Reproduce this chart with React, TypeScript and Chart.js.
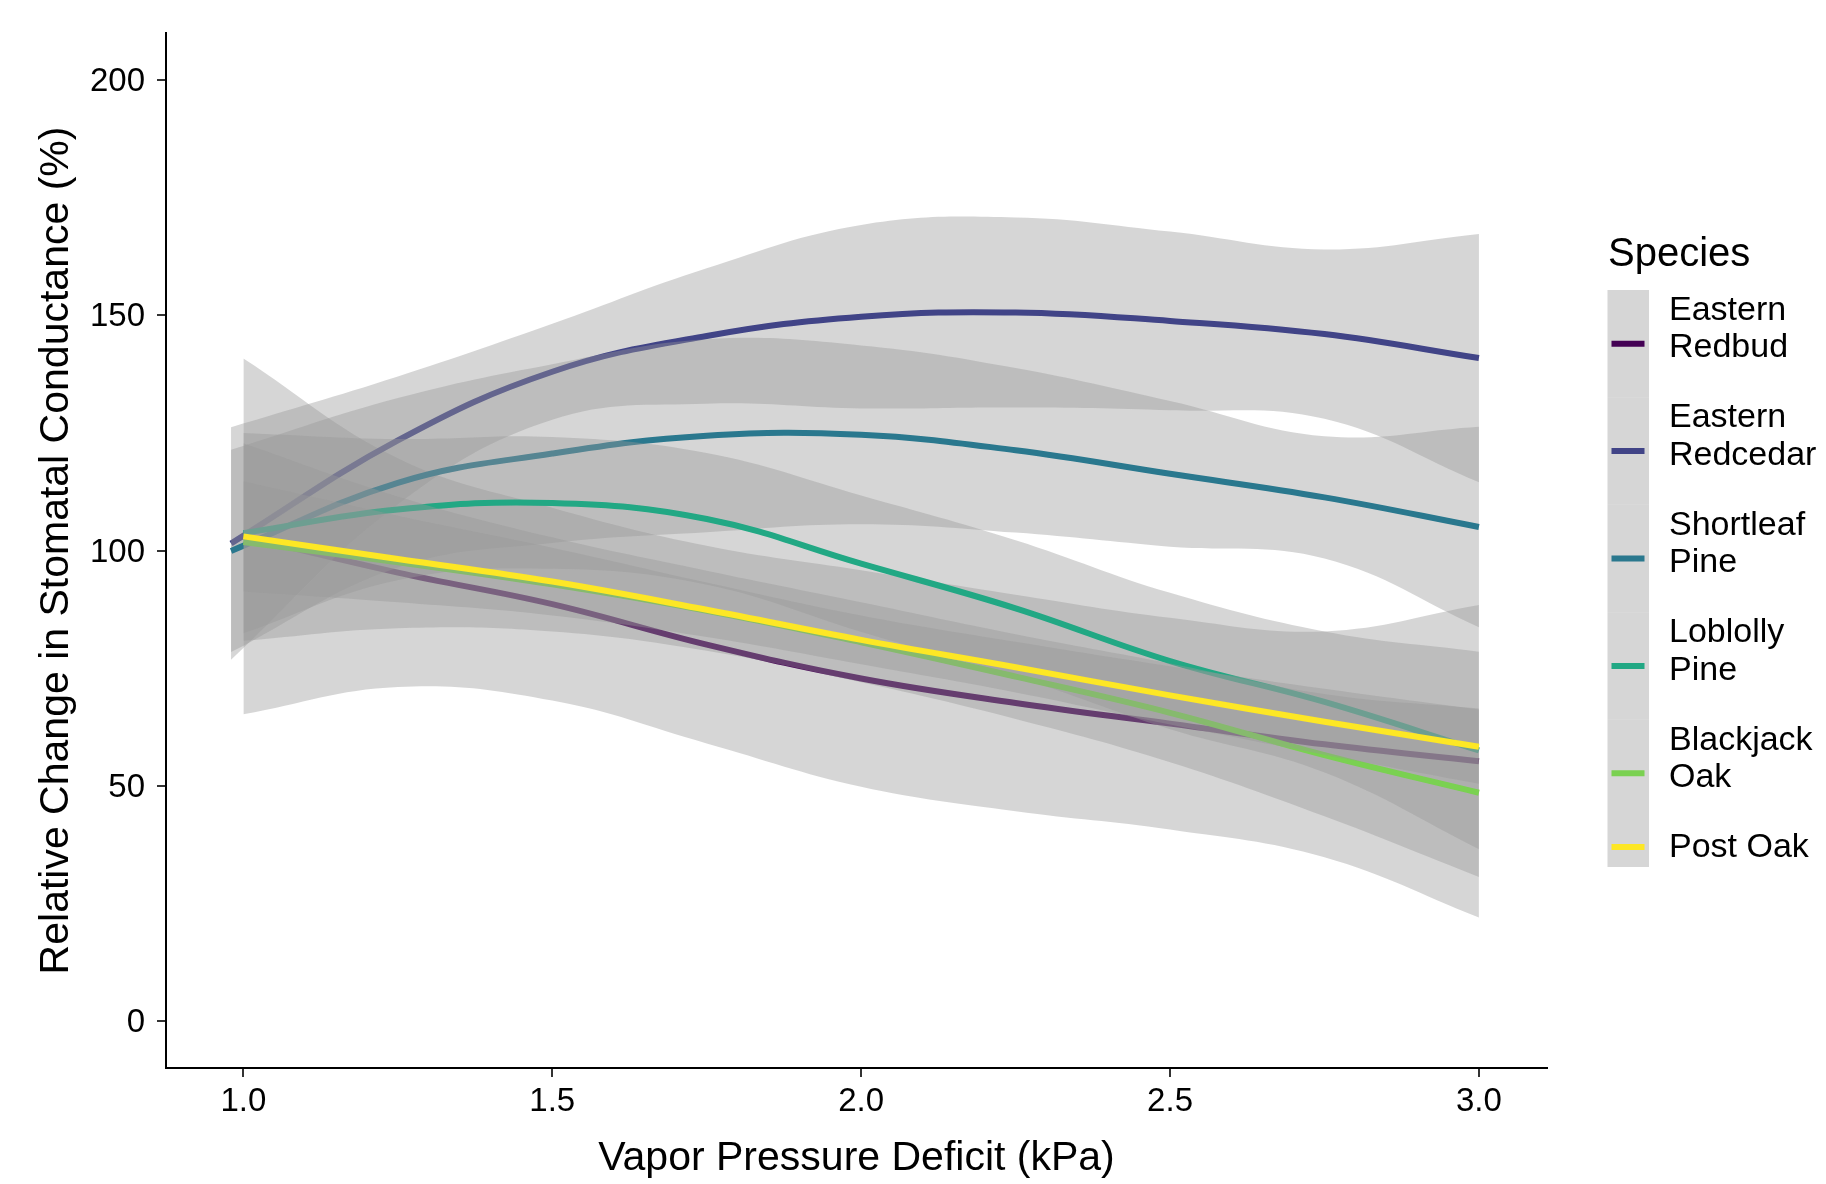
import React, { useEffect, useRef } from 'react';
import { Chart, registerables } from 'chart.js';

Chart.register(...registerables);

const FONT = "'Liberation Sans', Arial, Helvetica, sans-serif";

const SPECIES = ['Eastern Redbud', 'Eastern Redcedar', 'Shortleaf Pine', 'Loblolly Pine', 'Blackjack Oak', 'Post Oak'];
const LEGEND_LABELS = [['Eastern', 'Redbud'], ['Eastern', 'Redcedar'], ['Shortleaf', 'Pine'], ['Loblolly', 'Pine'], ['Blackjack', 'Oak'], ['Post Oak']];
const COLORS = ['#440154', '#414487', '#2A788E', '#22A884', '#7AD151', '#FDE725'];
const RIBBON_FILL = 'rgba(153,153,153,0.4)';

const X_TITLE = 'Vapor Pressure Deficit (kPa)';
const Y_TITLE = 'Relative Change in Stomatal Conductance (%)';
const LEGEND_TITLE = 'Species';
const X_TICKS = [1.0, 1.5, 2.0, 2.5, 3.0];
const Y_TICKS = [0, 50, 100, 150, 200];

// Eastern Redbud
const X_REDBUD = [1.0, 1.25, 1.5, 1.75, 2.0, 2.25, 2.5, 2.75, 3.0];
const FIT_REDBUD = [103.0, 95.3, 88.6, 80.0, 72.8, 67.6, 63.2, 58.8, 55.2];
const LOW_REDBUD = [65.2, 71.0, 68.1, 59.0, 49.8, 44.6, 40.7, 34.8, 22.0];
const HIGH_REDBUD = [140.8, 119.6, 109.1, 101.0, 95.8, 90.6, 85.7, 82.8, 88.4];

// Eastern Redcedar
const X_REDCEDAR = [0.98, 1.25, 1.5, 1.75, 2.0, 2.25, 2.5, 2.75, 3.0];
const FIT_REDCEDAR = [101.5, 123.4, 138.0, 145.6, 149.7, 150.6, 148.8, 146.0, 140.9];
const LOW_REDCEDAR = [76.8, 109.8, 127.8, 131.2, 130.2, 130.4, 129.8, 128.0, 114.5];
const HIGH_REDCEDAR = [126.2, 137.0, 148.2, 160.0, 169.2, 170.8, 167.8, 164.0, 167.3];

// Shortleaf Pine
const X_SHORTLEAF = [0.98, 1.25, 1.5, 1.75, 2.0, 2.25, 2.5, 2.75, 3.0];
const FIT_SHORTLEAF = [99.9, 114.4, 120.6, 124.4, 124.6, 121.3, 116.3, 111.3, 105.0];
const LOW_SHORTLEAF = [78.4, 96.4, 101.6, 103.9, 105.6, 103.8, 100.8, 98.3, 83.7];
const HIGH_SHORTLEAF = [121.4, 132.4, 139.6, 144.9, 143.6, 138.8, 131.8, 124.3, 126.3];

// Loblolly Pine
const X_LOBLOLLY = [1.0, 1.25, 1.5, 1.75, 2.0, 2.25, 2.5, 2.75, 3.0];
const FIT_LOBLOLLY = [103.7, 108.7, 110.1, 106.7, 97.2, 87.7, 76.5, 67.8, 57.5];
const LOW_LOBLOLLY = [82.4, 93.7, 96.1, 92.7, 82.7, 73.2, 62.0, 52.8, 36.5];
const HIGH_LOBLOLLY = [125.0, 123.7, 124.1, 120.7, 111.7, 102.2, 91.0, 82.8, 78.5];

// Blackjack Oak
const X_BLACKJACK = [1.0, 1.25, 1.5, 1.75, 2.0, 2.25, 2.5, 2.75, 3.0];
const FIT_BLACKJACK = [101.8, 97.5, 92.8, 87.2, 80.5, 73.2, 65.5, 56.5, 48.5];
const LOW_BLACKJACK = [80.8, 83.5, 82.8, 78.7, 72.0, 64.2, 55.0, 43.5, 30.6];
const HIGH_BLACKJACK = [122.8, 111.5, 102.8, 95.7, 89.0, 82.2, 76.0, 69.5, 66.4];

// Post Oak
const X_POSTOAK = [1.0, 1.25, 1.5, 1.75, 2.0, 2.25, 2.5, 2.75, 3.0];
const FIT_POSTOAK = [103.0, 98.2, 93.4, 87.4, 81.0, 75.2, 69.2, 63.6, 58.3];
const LOW_POSTOAK = [91.3, 89.0, 86.2, 81.6, 75.8, 69.8, 63.0, 56.6, 50.4];
const HIGH_POSTOAK = [114.7, 107.4, 100.6, 93.2, 86.2, 80.6, 75.4, 70.6, 66.2];

const SERIES = [
  { x: X_REDBUD, fit: FIT_REDBUD, lo: LOW_REDBUD, hi: HIGH_REDBUD },
  { x: X_REDCEDAR, fit: FIT_REDCEDAR, lo: LOW_REDCEDAR, hi: HIGH_REDCEDAR },
  { x: X_SHORTLEAF, fit: FIT_SHORTLEAF, lo: LOW_SHORTLEAF, hi: HIGH_SHORTLEAF },
  { x: X_LOBLOLLY, fit: FIT_LOBLOLLY, lo: LOW_LOBLOLLY, hi: HIGH_LOBLOLLY },
  { x: X_BLACKJACK, fit: FIT_BLACKJACK, lo: LOW_BLACKJACK, hi: HIGH_BLACKJACK },
  { x: X_POSTOAK, fit: FIT_POSTOAK, lo: LOW_POSTOAK, hi: HIGH_POSTOAK },
];

const pts = (xs: number[], ys: number[]) => xs.map((x, i) => ({ x, y: ys[i] }));

function buildDatasets() {
  const ds: any[] = [];
  let seq = 0;
  SERIES.forEach((s, i) => {
    const common = {
      pointRadius: 0,
      pointHoverRadius: 0,
      tension: 0.4,
    };
    ds.push({
      ...common,
      label: SPECIES[i] + ' lower',
      data: pts(s.x, s.lo),
      borderWidth: 0,
      borderColor: 'rgba(0,0,0,0)',
      backgroundColor: 'rgba(0,0,0,0)',
      fill: false,
      order: 1000 - seq++,
    });
    ds.push({
      ...common,
      label: SPECIES[i] + ' upper',
      data: pts(s.x, s.hi),
      borderWidth: 0,
      borderColor: 'rgba(0,0,0,0)',
      backgroundColor: RIBBON_FILL,
      fill: '-1',
      order: 1000 - seq++,
    });
    ds.push({
      ...common,
      label: SPECIES[i],
      data: pts(s.x, s.fit),
      borderWidth: 6,
      borderColor: COLORS[i],
      backgroundColor: COLORS[i],
      fill: false,
      order: 1000 - seq++,
    });
  });
  return ds;
}

const legendPlugin = {
  id: 'ggLegend',
  afterDraw(chart: any) {
    const ctx = chart.ctx as CanvasRenderingContext2D;
    ctx.save();
    ctx.textAlign = 'left';
    ctx.textBaseline = 'alphabetic';
    ctx.fillStyle = '#000';
    ctx.font = `40px ${FONT}`;
    ctx.fillText(LEGEND_TITLE, 1608, 266);
    let y = 290;
    LEGEND_LABELS.forEach((lines, i) => {
      const h = lines.length > 1 ? 107.4 : 40;
      ctx.fillStyle = RIBBON_FILL;
      ctx.fillRect(1607.5, y, 41.5, h);
      const cy = y + h / 2;
      ctx.strokeStyle = COLORS[i];
      ctx.lineWidth = 6;
      ctx.lineCap = 'butt';
      ctx.beginPath();
      ctx.moveTo(1611.5, cy);
      ctx.lineTo(1644.5, cy);
      ctx.stroke();
      ctx.fillStyle = '#000';
      ctx.font = `34px ${FONT}`;
      if (lines.length > 1) {
        ctx.fillText(lines[0], 1669, cy - 36 + 12.2);
        ctx.fillText(lines[1], 1669, cy + 1.5 + 12.2);
      } else {
        ctx.fillText(lines[0], 1669, cy - 2 + 12.2);
      }
      y += h;
    });
    ctx.restore();
  },
};

export default function App() {
  const ref = useRef<HTMLCanvasElement | null>(null);
  useEffect(() => {
    if (!ref.current) return;
    Chart.defaults.font.family = FONT;
    const chart = new Chart(ref.current, {
      type: 'line',
      data: { datasets: buildDatasets() },
      options: {
        responsive: false,
        animation: false,
        devicePixelRatio: 1,
        events: [],
        layout: { padding: { top: 33, right: 279, bottom: 0, left: 0 } },
        plugins: { legend: { display: false }, tooltip: { enabled: false }, title: { display: false } },
        scales: {
          x: {
            type: 'linear',
            min: 0.8747,
            max: 3.1102,
            afterBuildTicks: (scale: any) => {
              scale.ticks = X_TICKS.map((v) => ({ value: v }));
            },
            afterFit: (scale: any) => {
              scale.height = 116;
            },
            ticks: {
              autoSkip: false,
              maxRotation: 0,
              padding: 5,
              color: '#000',
              font: { size: 33, family: FONT },
              callback: (v: any) => Number(v).toFixed(1),
            },
            grid: {
              display: true,
              drawOnChartArea: false,
              drawTicks: true,
              tickLength: 9,
              tickWidth: 2,
              lineWidth: 2,
              color: '#333',
              tickColor: '#333',
            },
            border: { display: true, color: '#000', width: 2 },
            title: {
              display: true,
              text: X_TITLE,
              color: '#000',
              font: { size: 41, family: FONT },
              padding: { top: 0, bottom: 0.5 },
            },
          },
          y: {
            type: 'linear',
            min: -10,
            max: 210,
            afterBuildTicks: (scale: any) => {
              scale.ticks = Y_TICKS.map((v) => ({ value: v }));
            },
            afterFit: (scale: any) => {
              scale.width = 166;
            },
            ticks: {
              autoSkip: false,
              padding: 12,
              labelOffset: 2,
              color: '#000',
              font: { size: 33, family: FONT },
              callback: (v: any) => String(v),
            },
            grid: {
              display: true,
              drawOnChartArea: false,
              drawTicks: true,
              tickLength: 9,
              tickWidth: 2,
              lineWidth: 2,
              color: '#333',
              tickColor: '#333',
            },
            border: { display: true, color: '#000', width: 2 },
            title: {
              display: true,
              text: Y_TITLE,
              color: '#000',
              font: { size: 41, family: FONT },
              padding: { top: 31.9, bottom: 0 },
            },
          },
        },
      } as any,
      plugins: [legendPlugin],
    });
    return () => chart.destroy();
  }, []);

  return (
    <div style={{ position: 'fixed', left: 0, top: 0, width: 1826, height: 1184, background: '#fff' }}>
      <canvas ref={ref} width={1826} height={1184} style={{ display: 'block', width: 1826, height: 1184 }} />
    </div>
  );
}
